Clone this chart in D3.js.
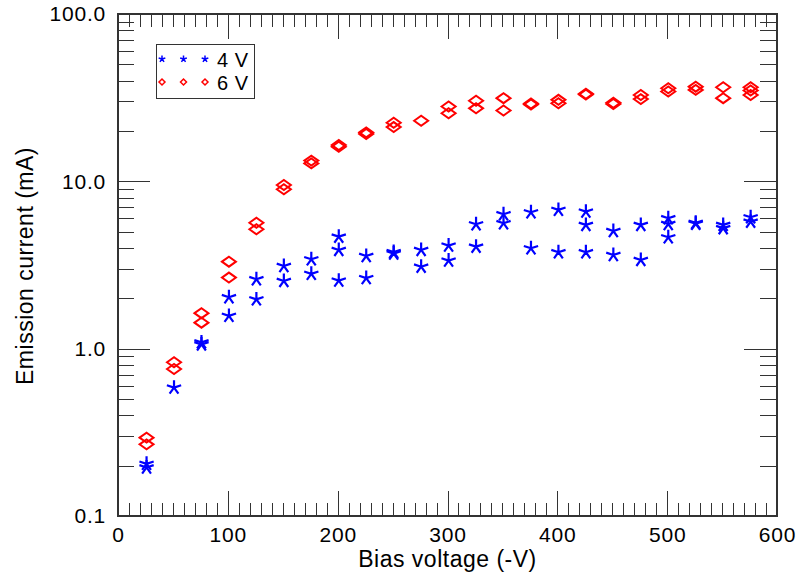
<!DOCTYPE html>
<html>
<head>
<meta charset="utf-8">
<script src="https://cdn.jsdelivr.net/npm/d3@7"></script>
<style>
  body { margin: 0; background: #fff; }
  text { font-family: "Liberation Sans", Arial, Helvetica, sans-serif; fill: #000; }
</style>
</head>
<body>
<div id="chartholder"></div>
<script>
// bias voltages (-V) where both filament settings were measured
var biasVoltage = [26, 51, 76, 101, 126, 151, 176, 201, 226, 251, 276, 301,
                   326, 351, 376, 401, 426, 451, 476, 501, 526, 551, 576];

// emission current (mA), repeated readings at each voltage
var current4V = [[0.205, 0.195], [0.585], [1.09, 1.06], [2.03, 1.57], [2.60, 1.97],
                 [3.12, 2.54], [3.42, 2.80], [4.67, 3.89, 2.55], [3.58, 2.64], [3.78, 3.70],
                 [3.89, 3.09], [4.13, 3.36], [5.54, 4.07], [6.36, 5.62], [6.53, 3.98],
                 [6.75, 3.77], [6.59, 5.49, 3.77], [5.05, 3.63], [5.49, 3.39],
                 [6.02, 5.56, 4.63], [5.65, 5.58], [5.49, 5.25], [6.10, 5.74]];

var current6V = [[0.294, 0.268], [0.83, 0.756], [1.63, 1.43], [3.31, 2.66], [5.66, 5.17],
                 [9.51, 8.97], [13.3, 12.8], [16.5, 16.1], [19.6, 19.2], [22.4, 21.1],
                 [23.0], [28.0, 25.5], [30.3, 27.3], [31.4, 26.5], [29.2, 28.8],
                 [30.7, 29.3], [33.4, 33.0], [29.5, 29.0], [32.8, 31.0], [36.0, 34.4],
                 [36.8, 35.2], [36.5, 31.4], [36.5, 34.9, 32.8]];

var xTicks = [0, 100, 200, 300, 400, 500, 600];
var yTicks = [0.1, 1, 10, 100];
var seriesNames = ["4 V", "6 V"];

var svg = d3.select("#chartholder")
            .append("svg")
            .attr("width", 798)
            .attr("height", 577);

var margin = {top: 14, right: 21, bottom: 61, left: 118},
    width = 798 - margin.left - margin.right,
    height = 577 - margin.top - margin.bottom;

var g = svg.append("g")
           .attr("transform", "translate(" + margin.left + "," + margin.top + ")");

var x = d3.scaleLinear().domain([0, 600]).range([0, width]);
var y = d3.scaleLog().domain([0.1, 100]).range([height, 0]);

// minor tick values
var xMinor = d3.range(0, 601, 10).filter(function(v) { return v % 100 !== 0; });
var yMinor = [];
[0.1, 1, 10].forEach(function(d) {
  for (var k = 2; k <= 9; k++) yMinor.push(d * k);
});

var axisColor = "#333";
function styleAxis(sel) {
  sel.select(".domain").remove();
  sel.selectAll("line").attr("stroke", axisColor).attr("shape-rendering", "crispEdges");
  sel.selectAll("text")
     .style("font-size", "21px")
     .style("letter-spacing", "0.8px")
     .attr("fill", "#000");
}

// bottom axis
g.append("g")
 .attr("transform", "translate(0," + height + ")")
 .call(d3.axisBottom(x).tickValues(xTicks).tickSizeInner(-25).tickSizeOuter(0).tickPadding(11))
 .call(styleAxis);
g.append("g")
 .attr("transform", "translate(0," + height + ")")
 .call(d3.axisBottom(x).tickValues(xMinor).tickSizeInner(-13).tickSizeOuter(0).tickFormat(""))
 .call(styleAxis);

// top axis
g.append("g")
 .call(d3.axisTop(x).tickValues(xTicks).tickSizeInner(-25).tickSizeOuter(0).tickFormat(""))
 .call(styleAxis);
g.append("g")
 .call(d3.axisTop(x).tickValues(xMinor).tickSizeInner(-13).tickSizeOuter(0).tickFormat(""))
 .call(styleAxis);

// left axis
g.append("g")
 .call(d3.axisLeft(y).tickValues(yTicks).tickSizeInner(-32).tickSizeOuter(0).tickPadding(12)
        .tickFormat(d3.format(".1f")))
 .call(styleAxis);
g.append("g")
 .call(d3.axisLeft(y).tickValues(yMinor).tickSizeInner(-16).tickSizeOuter(0).tickFormat(""))
 .call(styleAxis);

// right axis
g.append("g")
 .attr("transform", "translate(" + width + ",0)")
 .call(d3.axisRight(y).tickValues(yTicks).tickSizeInner(-33).tickSizeOuter(0).tickFormat(""))
 .call(styleAxis);
g.append("g")
 .attr("transform", "translate(" + width + ",0)")
 .call(d3.axisRight(y).tickValues(yMinor).tickSizeInner(-17).tickSizeOuter(0).tickFormat(""))
 .call(styleAxis);

// frame
g.append("rect")
 .attr("x", 0).attr("y", 0)
 .attr("width", width).attr("height", height)
 .attr("fill", "none")
 .attr("stroke", axisColor)
 .attr("stroke-width", 1.2)
 .attr("shape-rendering", "crispEdges");

// axis titles
svg.append("text")
   .attr("x", margin.left + width / 2)
   .attr("y", 567)
   .attr("text-anchor", "middle")
   .style("font-size", "23px")
   .style("letter-spacing", "0.5px")
   .text("Bias voltage (-V)");

svg.append("text")
   .attr("transform", "translate(33,266) rotate(-90)")
   .attr("text-anchor", "middle")
   .style("font-size", "23px")
   .style("letter-spacing", "0.5px")
   .text("Emission current (mA)");

// marker paths
function starPath(r) {
  var p = "";
  for (var i = 0; i < 5; i++) {
    var a = i * 2 * Math.PI / 5;
    p += "M0,0L" + (r * Math.sin(a)).toFixed(2) + "," + (-r * Math.cos(a)).toFixed(2);
  }
  return p;
}
function diamondPath(w, h) {
  return "M" + (-w) + ",0L0," + (-h) + "L" + w + ",0L0," + h + "Z";
}

// flatten readings
function flatten(values) {
  var pts = [];
  biasVoltage.forEach(function(v, i) {
    values[i].forEach(function(c) { pts.push({v: v, c: c}); });
  });
  return pts;
}

g.selectAll(".star")
 .data(flatten(current4V))
 .enter().append("path")
 .attr("class", "star")
 .attr("d", starPath(7.5))
 .attr("transform", function(d) { return "translate(" + x(d.v) + "," + y(d.c) + ")"; })
 .attr("fill", "none")
 .attr("stroke", "#0000ff")
 .attr("stroke-width", 2.2);

g.selectAll(".diamond")
 .data(flatten(current6V))
 .enter().append("path")
 .attr("class", "diamond")
 .attr("d", diamondPath(7, 5))
 .attr("transform", function(d) { return "translate(" + x(d.v) + "," + y(d.c) + ")"; })
 .attr("fill", "none")
 .attr("stroke", "#ff0000")
 .attr("stroke-width", 2);

// legend
var legend = svg.append("g");
legend.append("rect")
      .attr("x", 156.5).attr("y", 44.5)
      .attr("width", 98).attr("height", 54)
      .attr("fill", "#fff")
      .attr("stroke", axisColor)
      .attr("stroke-width", 1);

var legendRows = [
  {name: seriesNames[0], y: 59, d: starPath(3.5), color: "#0000ff"},
  {name: seriesNames[1], y: 82, d: diamondPath(3, 3), color: "#ff0000"}
];
legendRows.forEach(function(row) {
  [162, 183.5, 205].forEach(function(mx) {
    legend.append("path")
          .attr("d", row.d)
          .attr("transform", "translate(" + mx + "," + row.y + ")")
          .attr("fill", "none")
          .attr("stroke", row.color)
          .attr("stroke-width", 1.5);
  });
  legend.append("text")
        .attr("x", 217)
        .attr("y", row.y + 7.5)
        .style("font-size", "20px")
        .style("letter-spacing", "0.5px")
        .text(row.name);
});
</script>
</body>
</html>
